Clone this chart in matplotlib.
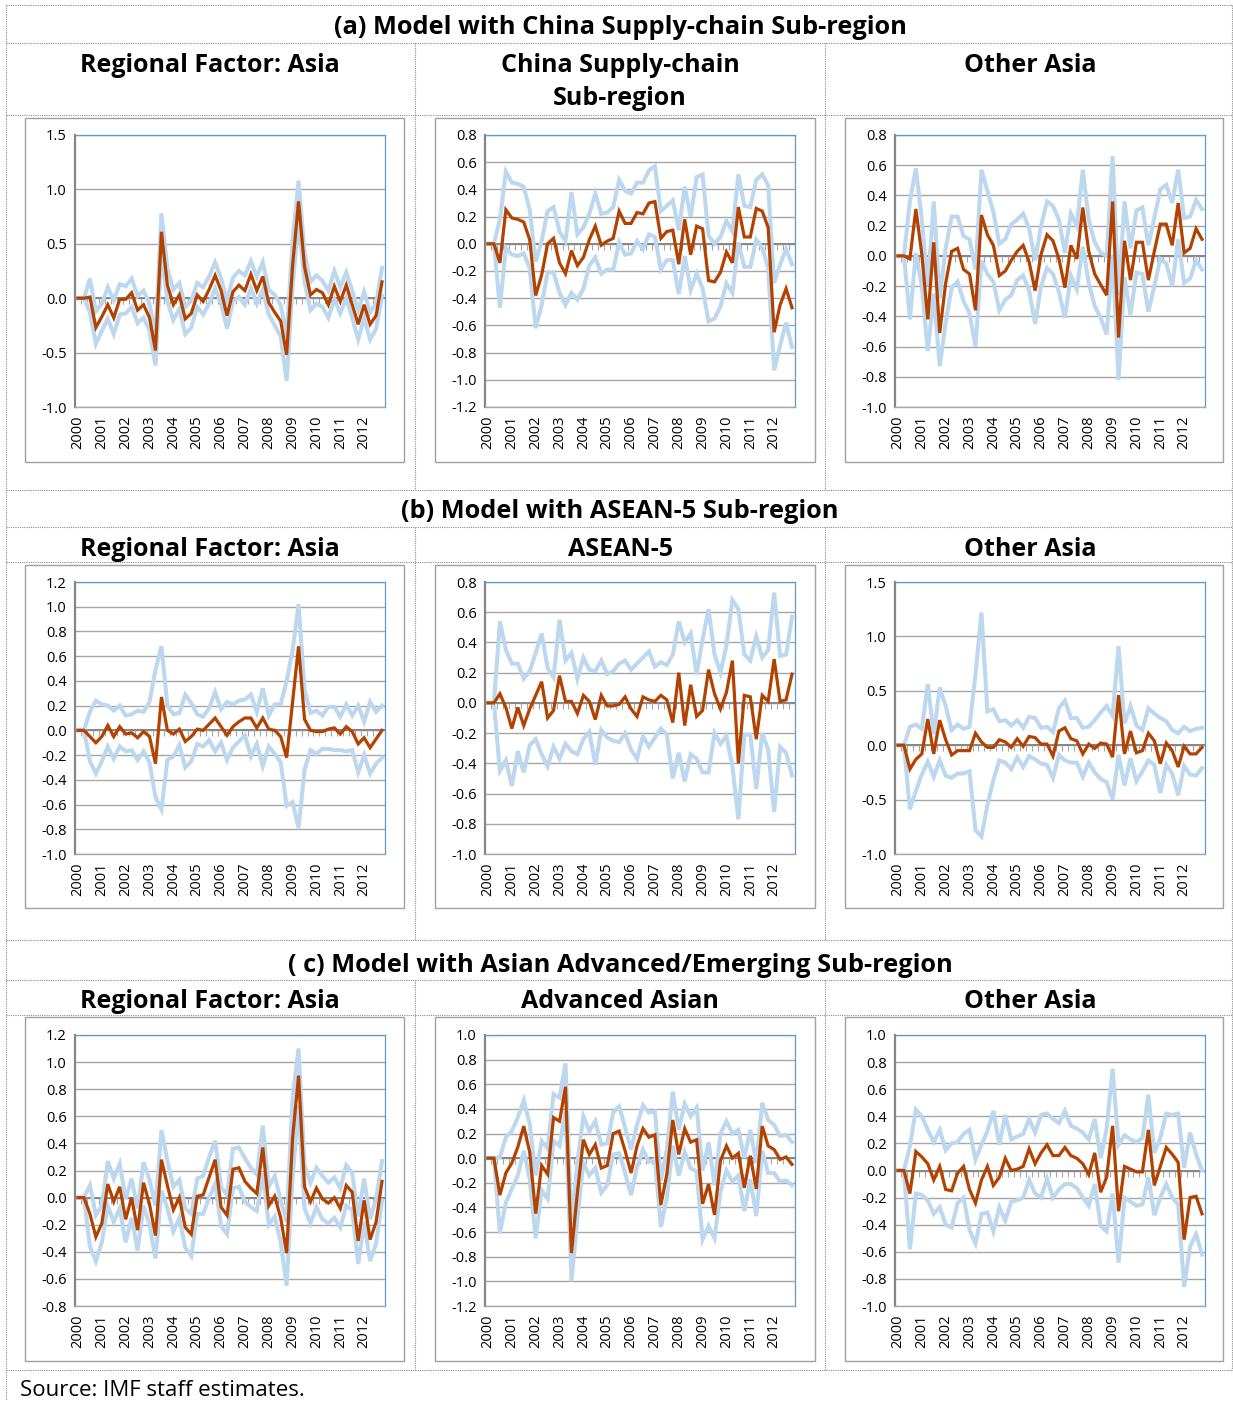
import numpy as np
import matplotlib
matplotlib.use("Agg")
import matplotlib.pyplot as plt
from matplotlib.lines import Line2D
from matplotlib.patches import Rectangle
from matplotlib.ticker import FuncFormatter, MultipleLocator

plt.rcParams['font.family'] = ['Open Sans', 'DejaVu Sans']

years = [str(y) for y in range(2000, 2013)]
n_q = 52

section_titles = ["(a) Model with China Supply-chain Sub-region",
                  "(b) Model with ASEAN-5 Sub-region",
                  "( c) Model with Asian Advanced/Emerging Sub-region"]
panel_titles = [["Regional Factor: Asia", "China Supply-chain\nSub-region", "Other Asia"],
                ["Regional Factor: Asia", "ASEAN-5", "Other Asia"],
                ["Regional Factor: Asia", "Advanced Asian", "Other Asia"]]
source_text = "Source: IMF staff estimates."

# ---------------- (a) ----------------
a_asia_med = [0, 0, 0.01, -0.27, -0.17, -0.06, -0.18, -0.01, -0.01, 0.05, -0.11, -0.06, -0.18, -0.48, 0.61, 0.12,
              -0.06, 0.03, -0.19, -0.14, 0.03, -0.03, 0.08, 0.21, 0.07, -0.16, 0.06, 0.12, 0.07, 0.22, 0.07, 0.20,
              -0.04, -0.13, -0.21, -0.52, 0.30, 0.89, 0.29, 0.03, 0.08, 0.05, -0.06, 0.11, -0.03, 0.12, -0.06, -0.24,
              -0.06, -0.24, -0.16, 0.15]
a_asia_hi = [0, 0, 0.18, -0.12, -0.05, 0.10, -0.02, 0.13, 0.11, 0.18, 0.02, 0.07, -0.05, -0.35, 0.78, 0.27,
             0.08, 0.14, -0.08, -0.02, 0.14, 0.10, 0.20, 0.33, 0.18, -0.02, 0.19, 0.25, 0.21, 0.34, 0.20, 0.33,
             0.08, 0.03, -0.06, -0.35, 0.53, 1.08, 0.42, 0.15, 0.21, 0.16, 0.07, 0.25, 0.10, 0.24, 0.07, -0.11,
             0.06, -0.13, -0.05, 0.28]
a_asia_lo = [0, 0, -0.13, -0.42, -0.30, -0.19, -0.33, -0.15, -0.14, -0.08, -0.23, -0.18, -0.30, -0.62, 0.43, -0.03,
             -0.20, -0.10, -0.33, -0.27, -0.08, -0.15, -0.05, 0.09, -0.05, -0.28, -0.03, 0.01, -0.06, 0.09, -0.05, 0.08,
             -0.15, -0.25, -0.35, -0.76, 0.10, 0.72, 0.15, -0.11, -0.05, -0.08, -0.18, -0.01, -0.14, 0.00, -0.18, -0.38,
             -0.18, -0.38, -0.28, 0.02]

a_china_med = [0, 0, -0.14, 0.25, 0.19, 0.18, 0.16, 0.03, -0.38, -0.23, 0.00, 0.04, -0.14, -0.22, -0.05, -0.16,
               -0.10, 0.03, 0.13, -0.01, 0.02, 0.04, 0.24, 0.15, 0.15, 0.23, 0.22, 0.30, 0.31, 0.04, 0.09, 0.10,
               -0.15, 0.18, -0.08, 0.13, 0.11, -0.27, -0.28, -0.21, -0.06, -0.14, 0.27, 0.05, 0.05, 0.26, 0.24, 0.12,
               -0.65, -0.45, -0.33, -0.47]
a_china_hi = [0, 0, 0.18, 0.53, 0.45, 0.44, 0.42, 0.25, -0.13, 0.02, 0.24, 0.27, 0.09, 0.02, 0.38, 0.07,
              0.12, 0.22, 0.37, 0.22, 0.23, 0.27, 0.47, 0.39, 0.37, 0.45, 0.45, 0.54, 0.57, 0.24, 0.28, 0.32,
              0.10, 0.42, 0.20, 0.49, 0.51, 0.06, 0.00, 0.05, 0.17, 0.09, 0.51, 0.28, 0.27, 0.47, 0.51, 0.43,
              -0.29, -0.15, -0.04, -0.15]
a_china_lo = [0, 0, -0.47, -0.03, -0.08, -0.09, -0.07, -0.18, -0.62, -0.45, -0.21, -0.21, -0.36, -0.45, -0.36, -0.41,
              -0.33, -0.16, -0.10, -0.22, -0.19, -0.19, 0.01, -0.08, -0.07, 0.02, -0.04, 0.07, 0.05, -0.19, -0.12, -0.12,
              -0.37, -0.09, -0.34, -0.22, -0.33, -0.57, -0.55, -0.46, -0.29, -0.36, 0.01, -0.17, -0.17, 0.03, -0.03, -0.18,
              -0.93, -0.75, -0.58, -0.76]

a_other_med = [0, 0, -0.02, 0.31, 0.01, -0.42, 0.09, -0.51, -0.18, 0.03, 0.05, -0.09, -0.12, -0.36, 0.27, 0.14,
               0.07, -0.13, -0.10, -0.03, 0.03, 0.07, -0.04, -0.23, 0.01, 0.14, 0.10, -0.02, -0.21, 0.07, -0.02, 0.32,
               0.03, -0.12, -0.19, -0.26, 0.36, -0.54, 0.10, -0.16, 0.09, 0.09, -0.16, 0.03, 0.21, 0.21, 0.07, 0.35,
               0.02, 0.05, 0.18, 0.11]
a_other_hi = [0, 0, 0.36, 0.58, 0.24, -0.20, 0.36, -0.28, 0.05, 0.26, 0.26, 0.13, 0.11, -0.09, 0.57, 0.43,
              0.29, 0.08, 0.11, 0.21, 0.24, 0.28, 0.18, -0.03, 0.20, 0.36, 0.33, 0.24, 0.02, 0.28, 0.20, 0.57,
              0.24, 0.09, 0.02, 0.00, 0.66, -0.26, 0.36, 0.05, 0.30, 0.32, 0.07, 0.25, 0.44, 0.47, 0.35, 0.57,
              0.25, 0.26, 0.37, 0.31]
a_other_lo = [0, 0, -0.42, 0.02, -0.20, -0.63, -0.25, -0.73, -0.44, -0.21, -0.17, -0.30, -0.38, -0.60, -0.03, -0.12,
              -0.17, -0.36, -0.29, -0.26, -0.16, -0.13, -0.23, -0.45, -0.20, -0.08, -0.12, -0.24, -0.41, -0.13, -0.22, 0.06,
              -0.18, -0.33, -0.41, -0.52, 0.01, -0.82, -0.14, -0.39, -0.11, -0.12, -0.37, -0.20, -0.02, -0.05, -0.20, 0.11,
              -0.18, -0.15, -0.03, -0.09]

# ---------------- (b) ----------------
b_asia_med = [0, 0, -0.05, -0.10, -0.05, 0.04, -0.05, 0.03, -0.03, -0.02, -0.06, -0.01, -0.05, -0.27, 0.27, 0.00,
              -0.03, 0.01, -0.09, -0.05, 0.01, 0.00, 0.05, 0.10, 0.03, -0.04, 0.03, 0.07, 0.10, 0.10, 0.02, 0.10,
              0.01, 0.00, -0.05, -0.22, 0.23, 0.68, 0.09, 0.00, -0.01, -0.01, 0.01, 0.02, -0.03, 0.03, -0.01, -0.11,
              -0.06, -0.14, -0.07, 0.00]
b_asia_hi = [0, 0, 0.15, 0.24, 0.21, 0.20, 0.16, 0.20, 0.12, 0.13, 0.16, 0.15, 0.23, 0.49, 0.68, 0.20,
             0.13, 0.14, 0.29, 0.22, 0.13, 0.11, 0.18, 0.31, 0.17, 0.23, 0.21, 0.24, 0.25, 0.29, 0.15, 0.34,
             0.12, 0.21, 0.21, 0.40, 0.65, 1.02, 0.33, 0.14, 0.16, 0.12, 0.19, 0.19, 0.11, 0.21, 0.12, 0.20,
             0.07, 0.23, 0.15, 0.20]
b_asia_lo = [0, 0, -0.25, -0.35, -0.25, -0.13, -0.23, -0.13, -0.17, -0.16, -0.24, -0.17, -0.26, -0.54, -0.64, -0.24,
             -0.21, -0.12, -0.30, -0.25, -0.11, -0.13, -0.08, -0.17, -0.10, -0.24, -0.14, -0.09, -0.04, -0.21, -0.11, -0.29,
             -0.13, -0.19, -0.26, -0.61, -0.58, -0.79, -0.32, -0.16, -0.19, -0.15, -0.15, -0.16, -0.16, -0.17, -0.16, -0.34,
             -0.20, -0.35, -0.27, -0.22]

b_asean_med = [0, 0, 0.06, -0.03, -0.17, -0.03, -0.15, -0.04, 0.05, 0.14, -0.10, -0.05, 0.18, 0.01, 0.01, -0.07,
               0.05, 0.01, -0.11, 0.05, -0.02, -0.02, -0.01, 0.04, -0.04, -0.09, 0.04, 0.02, 0.01, 0.05, 0.02, -0.13,
               0.20, -0.15, 0.12, -0.09, -0.05, 0.22, 0.06, -0.04, 0.07, 0.28, -0.40, 0.05, 0.04, -0.24, 0.05, 0.01,
               0.29, 0.01, 0.02, 0.19]
b_asean_hi = [0, 0, 0.54, 0.35, 0.26, 0.26, 0.16, 0.21, 0.33, 0.46, 0.23, 0.17, 0.55, 0.28, 0.33, 0.16,
              0.30, 0.22, 0.21, 0.28, 0.19, 0.21, 0.26, 0.28, 0.22, 0.26, 0.30, 0.34, 0.24, 0.27, 0.25, 0.32,
              0.54, 0.40, 0.46, 0.19, 0.42, 0.62, 0.32, 0.20, 0.38, 0.68, 0.62, 0.32, 0.28, 0.44, 0.30, 0.35,
              0.73, 0.31, 0.32, 0.57]
b_asean_lo = [0, 0, -0.45, -0.38, -0.55, -0.32, -0.46, -0.28, -0.24, -0.34, -0.42, -0.29, -0.37, -0.27, -0.32, -0.34,
              -0.24, -0.19, -0.41, -0.18, -0.23, -0.25, -0.26, -0.20, -0.31, -0.37, -0.22, -0.29, -0.23, -0.17, -0.21, -0.50,
              -0.33, -0.52, -0.34, -0.37, -0.46, -0.46, -0.20, -0.27, -0.22, -0.42, -0.77, -0.21, -0.21, -0.57, -0.20, -0.31,
              -0.72, -0.29, -0.33, -0.48]

b_other_med = [0, 0, -0.22, -0.13, -0.08, 0.24, -0.08, 0.23, 0.05, -0.09, -0.05, -0.05, -0.05, 0.11, 0.03, -0.02,
               -0.02, 0.05, 0.03, -0.02, 0.06, -0.01, 0.08, 0.07, 0.01, 0.01, -0.10, 0.13, 0.16, 0.06, 0.04, -0.08,
               0.01, -0.03, 0.02, 0.01, -0.11, 0.46, -0.08, 0.13, -0.07, -0.05, 0.11, 0.04, -0.17, 0.02, -0.05, -0.20,
               -0.01, -0.08, -0.08, -0.02]
b_other_hi = [0, 0, 0.17, 0.19, 0.15, 0.56, 0.10, 0.53, 0.36, 0.14, 0.19, 0.15, 0.17, 0.65, 1.22, 0.31,
              0.33, 0.22, 0.23, 0.18, 0.23, 0.16, 0.26, 0.25, 0.16, 0.17, 0.12, 0.34, 0.41, 0.25, 0.25, 0.16,
              0.17, 0.23, 0.30, 0.36, 0.27, 0.91, 0.20, 0.36, 0.18, 0.14, 0.34, 0.29, 0.25, 0.22, 0.14, 0.11,
              0.17, 0.13, 0.15, 0.16]
b_other_lo = [0, 0, -0.59, -0.42, -0.27, -0.15, -0.29, -0.14, -0.28, -0.30, -0.26, -0.26, -0.24, -0.78, -0.84, -0.55,
              -0.32, -0.14, -0.16, -0.22, -0.11, -0.20, -0.10, -0.13, -0.17, -0.18, -0.30, -0.09, -0.14, -0.16, -0.16, -0.29,
              -0.16, -0.25, -0.31, -0.34, -0.50, -0.09, -0.37, -0.12, -0.33, -0.24, -0.14, -0.18, -0.44, -0.18, -0.26, -0.46,
              -0.19, -0.27, -0.28, -0.21]

# ---------------- (c) ----------------
c_asia_med = [0, 0, -0.12, -0.29, -0.19, 0.10, -0.03, 0.08, -0.16, 0.00, -0.24, 0.11, -0.05, -0.28, 0.28, 0.09,
              -0.09, 0.00, -0.22, -0.27, 0.01, 0.02, 0.15, 0.28, -0.07, -0.13, 0.21, 0.22, 0.12, 0.07, 0.03, 0.37,
              -0.06, 0.01, -0.15, -0.41, 0.44, 0.90, 0.08, -0.03, 0.07, -0.01, -0.04, 0.00, -0.08, 0.09, 0.04, -0.32,
              -0.02, -0.31, -0.18, 0.12]
c_asia_hi = [0, 0, 0.09, -0.13, -0.06, 0.27, 0.14, 0.25, -0.01, 0.14, -0.08, 0.26, 0.13, -0.06, 0.50, 0.27,
             0.08, 0.13, -0.08, -0.12, 0.14, 0.16, 0.30, 0.42, 0.08, 0.02, 0.36, 0.37, 0.29, 0.22, 0.17, 0.53,
             0.08, 0.16, -0.02, -0.18, 0.74, 1.10, 0.24, 0.11, 0.22, 0.16, 0.11, 0.15, 0.07, 0.24, 0.18, -0.14,
             0.14, -0.16, -0.01, 0.27]
c_asia_lo = [0, 0, -0.36, -0.47, -0.33, -0.06, -0.18, -0.08, -0.33, -0.15, -0.39, -0.06, -0.20, -0.45, 0.05, -0.08,
             -0.25, -0.15, -0.37, -0.43, -0.12, -0.12, 0.00, 0.10, -0.21, -0.27, 0.07, 0.08, -0.03, -0.07, -0.10, 0.18,
             -0.20, -0.14, -0.33, -0.65, 0.15, 0.68, -0.08, -0.19, -0.07, -0.16, -0.19, -0.15, -0.22, -0.06, -0.09, -0.49,
             -0.18, -0.47, -0.34, -0.02]

c_adv_med = [0, 0, -0.30, -0.12, -0.04, 0.09, 0.26, 0.05, -0.45, -0.06, -0.13, 0.33, 0.30, 0.58, -0.77, -0.28,
             0.15, 0.03, 0.11, -0.08, -0.06, 0.20, 0.22, 0.06, -0.12, 0.10, 0.24, 0.17, 0.19, -0.38, -0.13, 0.31,
             0.03, 0.24, 0.13, 0.15, -0.37, -0.21, -0.46, -0.02, 0.10, 0.00, 0.04, -0.24, 0.02, -0.25, 0.26, 0.10,
             0.07, -0.01, 0.01, -0.05]
c_adv_hi = [0, 0, 0.01, 0.17, 0.22, 0.33, 0.47, 0.28, -0.14, 0.14, 0.08, 0.52, 0.49, 0.77, -0.55, -0.03,
            0.34, 0.22, 0.30, 0.11, 0.12, 0.37, 0.42, 0.25, 0.07, 0.27, 0.43, 0.37, 0.38, -0.18, 0.07, 0.54,
            0.23, 0.44, 0.34, 0.41, -0.10, 0.13, -0.22, 0.20, 0.30, 0.20, 0.23, 0.00, 0.23, -0.04, 0.45, 0.31,
            0.27, 0.18, 0.19, 0.13]
c_adv_lo = [0, 0, -0.61, -0.36, -0.25, -0.14, 0.06, -0.17, -0.65, -0.26, -0.33, 0.14, 0.10, 0.38, -1.00, -0.49,
            -0.04, -0.14, -0.08, -0.28, -0.22, 0.03, 0.04, -0.12, -0.30, -0.07, 0.07, -0.03, -0.01, -0.56, -0.32, 0.10,
            -0.14, 0.05, -0.08, -0.11, -0.66, -0.55, -0.65, -0.27, -0.10, -0.19, -0.14, -0.43, -0.17, -0.47, 0.06, -0.12,
            -0.12, -0.19, -0.18, -0.22]

c_other_med = [0, 0, -0.17, 0.14, 0.10, 0.05, -0.07, 0.03, -0.14, -0.15, -0.02, 0.03, -0.14, -0.24, -0.07, 0.03,
               -0.11, -0.05, 0.09, 0.00, 0.01, 0.03, 0.16, 0.05, 0.13, 0.19, 0.11, 0.11, 0.17, 0.11, 0.09, 0.05,
               -0.03, 0.13, -0.16, -0.05, 0.33, -0.30, 0.03, 0.01, -0.01, -0.01, 0.30, -0.11, 0.03, 0.17, 0.12, 0.06,
               -0.51, -0.20, -0.19, -0.32]
c_other_hi = [0, 0, 0.18, 0.45, 0.40, 0.30, 0.21, 0.30, 0.15, 0.20, 0.21, 0.27, 0.30, 0.08, 0.19, 0.29,
              0.44, 0.19, 0.41, 0.23, 0.25, 0.27, 0.38, 0.28, 0.41, 0.42, 0.38, 0.35, 0.44, 0.33, 0.31, 0.28,
              0.23, 0.38, 0.09, 0.31, 0.75, 0.19, 0.26, 0.23, 0.21, 0.24, 0.56, 0.13, 0.24, 0.42, 0.41, 0.42,
              0.02, 0.28, 0.12, 0.00]
c_other_lo = [0, 0, -0.58, -0.17, -0.18, -0.22, -0.32, -0.27, -0.40, -0.42, -0.24, -0.20, -0.44, -0.54, -0.32, -0.31,
              -0.45, -0.27, -0.37, -0.23, -0.22, -0.20, -0.07, -0.17, -0.20, -0.06, -0.20, -0.14, -0.10, -0.10, -0.13, -0.20,
              -0.26, -0.10, -0.41, -0.45, -0.17, -0.68, -0.20, -0.23, -0.26, -0.25, -0.05, -0.33, -0.20, -0.10, -0.20, -0.25,
              -0.86, -0.56, -0.47, -0.62]

panels = [
    [(a_asia_med, a_asia_hi, a_asia_lo, (-1.0, 1.5), 0.5),
     (a_china_med, a_china_hi, a_china_lo, (-1.2, 0.8), 0.2),
     (a_other_med, a_other_hi, a_other_lo, (-1.0, 0.8), 0.2)],
    [(b_asia_med, b_asia_hi, b_asia_lo, (-1.0, 1.2), 0.2),
     (b_asean_med, b_asean_hi, b_asean_lo, (-1.0, 0.8), 0.2),
     (b_other_med, b_other_hi, b_other_lo, (-1.0, 1.5), 0.5)],
    [(c_asia_med, c_asia_hi, c_asia_lo, (-0.8, 1.2), 0.2),
     (c_adv_med, c_adv_hi, c_adv_lo, (-1.2, 1.0), 0.2),
     (c_other_med, c_other_hi, c_other_lo, (-1.0, 1.0), 0.2)],
]

W, H = 1233, 1401
fig = plt.figure(figsize=(W / 100, H / 100), dpi=100)
fig.patch.set_facecolor('white')


def fx(x):
    return x / W


def fy(y):
    return 1 - y / H


def hline(y, x0=6, x1=1232):
    fig.add_artist(Line2D([fx(x0), fx(x1)], [fy(y), fy(y)], ls=(0, (1, 1)), lw=0.8, color='#8c8c8c'))


def vline(x, y0, y1):
    fig.add_artist(Line2D([fx(x), fx(x)], [fy(y0), fy(y1)], ls=(0, (1, 1)), lw=0.8, color='#8c8c8c'))


ORANGE = '#B34200'
BLUE = '#BDD7EE'
GRID = '#a6a6a6'

col_box = [(25, 404), (435, 815), (845, 1223)]
col_plot = [(75, 385), (485, 795), (895, 1205)]
row_box = [(118, 462), (565, 908), (1017, 1361)]
row_plot = [(135, 407), (582, 854), (1035, 1306)]
sec_title_y = [27, 512, 965]
sub_title_y = [66, 549, 1002]
col_center = [210, 620, 1030]

# frame lines
for y in [5, 43, 115, 490, 527, 562, 940, 980, 1015, 1370]:
    hline(y)
vline(6, 5, 1401)
vline(1232, 5, 1370)
for (y0, y1) in [(43, 490), (527, 940), (980, 1370)]:
    vline(415, y0, y1)
    vline(825, y0, y1)

fmt = FuncFormatter(lambda v, _: ("%.1f" % v).replace("-0.0", "0.0"))
x = np.arange(n_q)

for r in range(3):
    fig.text(fx(620), fy(sec_title_y[r]), section_titles[r], ha='center', va='center',
             fontsize=18.3, fontweight='bold')
    for c in range(3):
        t = panel_titles[r][c]
        fig.text(fx(col_center[c]), fy(sub_title_y[r] if '\n' not in t else sub_title_y[r] + 16), t,
                 ha='center', va='center', fontsize=18, fontweight='bold', linespacing=1.42)
        bx0, bx1 = col_box[c]
        by0, by1 = row_box[r]
        fig.add_artist(Rectangle((fx(bx0), fy(by1)), fx(bx1) - fx(bx0), fy(by0) - fy(by1),
                                 fill=False, edgecolor='#a0a0a0', lw=1.0))
        px0, px1 = col_plot[c]
        py0, py1 = row_plot[r]
        ax = fig.add_axes([fx(px0), fy(py1), fx(px1) - fx(px0), fy(py0) - fy(py1)])
        med, hi, lo, ylim, step = panels[r][c]
        ax.set_ylim(*ylim)
        ax.set_xlim(-0.5, n_q - 0.5)
        ax.yaxis.set_major_locator(MultipleLocator(step))
        ax.yaxis.set_major_formatter(fmt)
        ax.grid(axis='y', color=GRID, lw=1.0)
        ax.set_axisbelow(True)
        ax.axhline(0, color='#868686', lw=1.4, zorder=1.5)
        ax.plot(np.arange(n_q) + 0.5, np.zeros(n_q), ls='none', marker=3, markersize=4,
                color='#a6a6a6', mew=0.8, zorder=1.5)
        ax.plot(x, hi, color=BLUE, lw=2.9, zorder=2, solid_joinstyle='miter')
        ax.plot(x, lo, color=BLUE, lw=2.9, zorder=2, solid_joinstyle='miter')
        ax.plot(x, med, color=ORANGE, lw=2.3, zorder=3, solid_joinstyle='miter')
        ax.set_xticks(np.arange(0, n_q, 4))
        ax.set_xticklabels(years, rotation=90, fontsize=10.5)
        ax.tick_params(axis='x', length=0, pad=6)
        ax.tick_params(axis='y', length=0, pad=6, labelsize=10.5)
        ax.spines['left'].set_color('#868686')
        ax.spines['left'].set_linewidth(1.6)
        ax.spines['bottom'].set_color('#a6a6a6')
        ax.spines['bottom'].set_linewidth(1.0)
        for s in ['top', 'right']:
            ax.spines[s].set_color('#5B9BD5')
            ax.spines[s].set_linewidth(0.9)

fig.text(fx(20), fy(1390), source_text, ha='left', va='center', fontsize=16)

fig.savefig('out.png', dpi=100, facecolor='white')
